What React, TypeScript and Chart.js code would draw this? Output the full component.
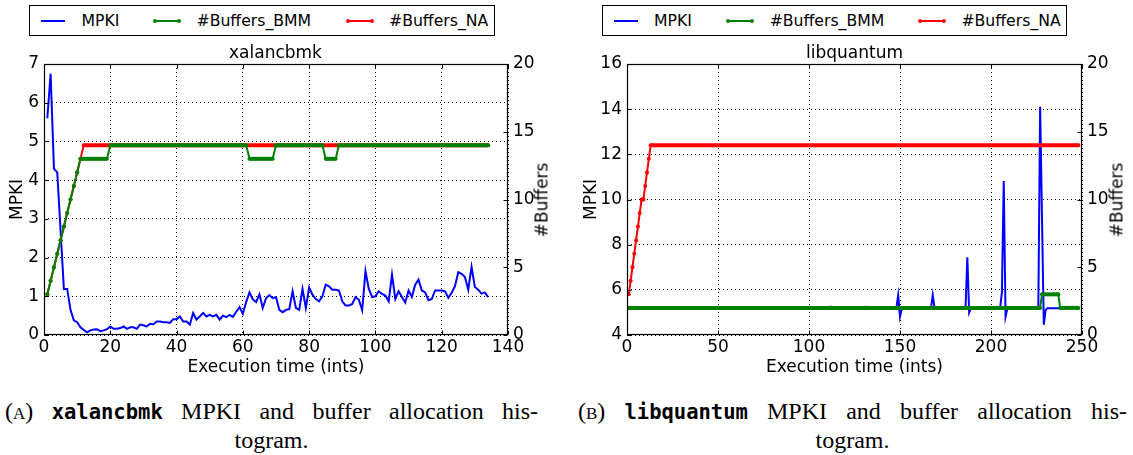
import React, { useEffect, useRef } from "react";
import { Chart, registerables } from "chart.js";

Chart.register(...registerables);

// ---------- Panel A: xalancbmk ----------
const xalanMpki = [
  5.6, 6.75, 4.3, 4.2, 2.7, 1.19, 1.19, 0.65, 0.38, 0.33,
  0.2, 0.13, 0.07, 0.12, 0.14, 0.15, 0.1, 0.12, 0.15, 0.22,
  0.16, 0.16, 0.18, 0.22, 0.16, 0.2, 0.2, 0.16, 0.27, 0.25,
  0.22, 0.29, 0.28, 0.35, 0.35, 0.33, 0.33, 0.31, 0.41, 0.41,
  0.48, 0.35, 0.35, 0.27, 0.57, 0.4, 0.48, 0.57, 0.48, 0.52,
  0.48, 0.52, 0.4, 0.5, 0.46, 0.52, 0.47, 0.6, 0.72, 0.55,
  0.85, 1.1, 0.92, 0.85, 1.05, 0.7, 0.95, 1.03, 0.95, 0.98,
  0.65, 0.59, 0.65, 0.67, 1.13, 0.7, 0.65, 1.19, 0.7, 1.23,
  1.04, 0.93, 0.87, 1.0, 1.3, 1.26, 1.17, 1.17, 1.15, 0.87,
  0.76, 0.76, 0.8, 0.98, 0.91, 0.64, 1.65, 1.19, 0.98, 1.0,
  1.13, 1.06, 1.02, 0.87, 1.56, 0.93, 1.13, 0.98, 0.84, 1.15,
  0.98, 1.3, 1.43, 1.15, 1.1, 0.9, 0.93, 1.15, 1.15, 1.15,
  1.13, 0.96, 1.09, 1.26, 1.62, 1.58, 1.5, 1.17, 1.76, 1.24,
  1.17, 1.07, 1.1, 0.98,
];
const xalanNaTime = [1, 2, 3, 4, 5, 6, 7, 8, 9, 10, 11, 12, 134];
const xalanNaBuffers = [3, 4, 5, 6, 7, 8, 9, 10, 11, 12, 13, 14, 14];
const xalanBmmTime = [1, 2, 3, 4, 5, 6, 7, 8, 9, 10, 11, 19, 20, 61, 62, 69, 70, 84, 85, 88, 89, 134];
const xalanBmmBuffers = [3, 4, 5, 6, 7, 8, 9, 10, 11, 12, 13, 13, 14, 14, 13, 13, 14, 14, 13, 13, 14, 14];

// ---------- Panel B: libquantum ----------
const libqMpkiTime = [
  1, 93, 94, 95, 111, 112, 113, 130, 131, 132, 148, 149, 150, 151,
  167, 168, 169, 186, 187, 188, 189, 205, 206, 207, 208, 209,
  226, 227, 229, 230, 231, 248,
];
const libqMpkiValue = [
  5.18, 5.18, 5.24, 5.18, 5.18, 5.26, 5.18, 5.18, 5.25, 5.18, 5.18, 5.77, 4.81, 5.18,
  5.18, 5.77, 5.18, 5.18, 7.44, 4.99, 5.18, 5.18, 5.9, 10.82, 4.81, 5.18,
  5.18, 14.11, 4.45, 5.1, 5.18, 5.18,
];
const libqNaTime = [1, 2, 3, 4, 5, 6, 7, 8, 9, 10, 11, 12, 13, 248];
const libqNaBuffers = [3, 4, 5, 6, 7, 8, 9, 10, 10, 11, 12, 13, 14, 14];
const libqBmmTime = [1, 227, 228, 237, 238, 248];
const libqBmmBuffers = [2, 2, 3, 3, 2, 2];

const seriesLabels = ["MPKI", "#Buffers_BMM", "#Buffers_NA"];
const xAxisTitle = "Execution time (ints)";
const yAxisTitle = "MPKI";
const y2AxisTitle = "#Buffers";

const BLUE = "#0000ff";
const GREEN = "#008000";
const RED = "#ff0000";
const SANS = "'DejaVu Sans', sans-serif";

type Pt = { x: number; y: number };
const zip = (xs: number[], ys: number[]): Pt[] => xs.map((x, i) => ({ x, y: ys[i] }));

const flatWidth = (ctx: any) => (ctx.p0.parsed.y === ctx.p1.parsed.y ? 4 : 2);

const frameTicks = {
  id: "frameTicks",
  afterDraw(chart: any) {
    const { ctx, chartArea: a, scales } = chart;
    const L = Math.round(a.left) + 0.5;
    const R = Math.round(a.right) - 0.5;
    const T = Math.round(a.top) + 0.5;
    const B = Math.round(a.bottom) - 0.5;
    ctx.save();
    ctx.strokeStyle = "#000";
    ctx.lineWidth = 1;
    ctx.setLineDash([]);
    ctx.beginPath();
    const len = 4;
    scales.x.ticks.forEach((t: any) => {
      const p = Math.round(scales.x.getPixelForValue(t.value)) + 0.5;
      ctx.moveTo(p, B);
      ctx.lineTo(p, B - len);
      ctx.moveTo(p, T);
      ctx.lineTo(p, T + len);
    });
    scales.y.ticks.forEach((t: any) => {
      const p = Math.round(scales.y.getPixelForValue(t.value)) + 0.5;
      ctx.moveTo(L, p);
      ctx.lineTo(L + len, p);
    });
    scales.y2.ticks.forEach((t: any) => {
      const p = Math.round(scales.y2.getPixelForValue(t.value)) + 0.5;
      ctx.moveTo(R, p);
      ctx.lineTo(R - len, p);
    });
    ctx.stroke();
    ctx.lineWidth = 1.2;
    ctx.strokeRect(L, T, R - L, B - T);
    ctx.restore();
  },
};

type Cfg = {
  mpki: Pt[];
  bmm: Pt[];
  na: Pt[];
  xMax: number;
  xStep: number;
  yMin: number;
  yMax: number;
  yStep: number;
  leftW: number;
  rightW: number;
  yTitlePad: number;
};

function makeConfig(c: Cfg): any {
  const tickFont = { family: SANS, size: 17 };
  const grid = { color: "#000", lineWidth: 1, drawTicks: false };
  const border = { display: false, dash: [1, 3] };
  return {
    type: "line",
    data: {
      datasets: [
        {
          label: seriesLabels[1],
          data: c.bmm,
          yAxisID: "y2",
          borderColor: GREEN,
          backgroundColor: GREEN,
          borderWidth: 2,
          pointRadius: 2,
          pointBorderWidth: 0,
          pointBackgroundColor: GREEN,
          tension: 0,
          order: 0,
          segment: { borderWidth: flatWidth },
        },
        {
          label: seriesLabels[2],
          data: c.na,
          yAxisID: "y2",
          borderColor: RED,
          backgroundColor: RED,
          borderWidth: 2,
          pointRadius: 2,
          pointBorderWidth: 0,
          pointBackgroundColor: RED,
          tension: 0,
          order: 1,
          segment: { borderWidth: flatWidth },
        },
        {
          label: seriesLabels[0],
          data: c.mpki,
          yAxisID: "y",
          borderColor: BLUE,
          backgroundColor: BLUE,
          borderWidth: 2,
          pointRadius: 0,
          tension: 0,
          order: 2,
        },
      ],
    },
    options: {
      responsive: false,
      animation: false,
      devicePixelRatio: 1,
      layout: { padding: { top: 24, left: 0, right: 0, bottom: 0 } },
      plugins: {
        legend: { display: false },
        tooltip: { enabled: false },
        title: { display: false },
      },
      scales: {
        x: {
          type: "linear",
          min: 0,
          max: c.xMax,
          ticks: { stepSize: c.xStep, font: tickFont, color: "#000", padding: 2, maxRotation: 0, autoSkip: false },
          grid,
          border,
          title: {
            display: true,
            text: xAxisTitle,
            color: "#000",
            font: { family: SANS, size: 17 },
            padding: { top: 0, bottom: 7 },
          },
          afterFit: (s: any) => {
            s.height = 50;
          },
        },
        y: {
          type: "linear",
          position: "left",
          min: c.yMin,
          max: c.yMax,
          ticks: { stepSize: c.yStep, font: tickFont, color: "#000", padding: 5 },
          grid,
          border,
          title: {
            display: true,
            text: yAxisTitle,
            color: "#000",
            font: { family: SANS, size: 17 },
            padding: { top: c.yTitlePad, bottom: 0 },
          },
          afterFit: (s: any) => {
            s.width = c.leftW;
          },
        },
        y2: {
          type: "linear",
          position: "right",
          min: 0,
          max: 20,
          ticks: { stepSize: 5, font: tickFont, color: "#000", padding: 5 },
          grid: { display: false, drawTicks: false },
          border: { display: false },
          afterFit: (s: any) => {
            s.width = c.rightW;
          },
        },
      },
    },
    plugins: [frameTicks],
  };
}

type LegendItem = { color: string; markers: boolean; lineX: number; textX: number; label: string };

function LegendBox({ left, width, items }: { left: number; width: number; items: LegendItem[] }) {
  return (
    <div
      style={{
        position: "absolute",
        left,
        top: 5,
        width,
        height: 31,
        boxSizing: "border-box",
        border: "1.3px solid #000",
        background: "#fff",
        fontFamily: SANS,
        fontSize: 15.7,
      }}
    >
      {items.map((it, i) => (
        <React.Fragment key={i}>
          <div
            style={{
              position: "absolute",
              left: it.lineX,
              top: 13.5,
              width: 24,
              height: 2,
              background: it.color,
            }}
          />
          {it.markers && (
            <>
              <div style={{ position: "absolute", left: it.lineX - 2, top: 12.5, width: 4, height: 4, borderRadius: 2, background: it.color }} />
              <div style={{ position: "absolute", left: it.lineX + 22, top: 12.5, width: 4, height: 4, borderRadius: 2, background: it.color }} />
            </>
          )}
          <div
            style={{
              position: "absolute",
              left: it.textX,
              top: 14.5,
              transform: "translateY(-50%)",
              whiteSpace: "nowrap",
              lineHeight: 1,
              color: "#000",
            }}
          >
            {it.label}
          </div>
        </React.Fragment>
      ))}
    </div>
  );
}

function Centered({ x, y, text, rotate }: { x: number; y: number; text: string; rotate?: boolean }) {
  return (
    <div
      style={{
        position: "absolute",
        left: x,
        top: y,
        transform: `translate(-50%, -50%)${rotate ? " rotate(-90deg)" : ""}`,
        whiteSpace: "nowrap",
        fontFamily: SANS,
        fontSize: 17,
        lineHeight: 1,
        color: "#000",
      }}
    >
      {text}
    </div>
  );
}

function Caption({ left, width, tag, bench }: { left: number; width: number; tag: string; bench: string }) {
  const serif = "'Liberation Serif', 'DejaVu Serif', serif";
  return (
    <>
      <div
        style={{
          position: "absolute",
          left,
          top: 398,
          width,
          fontFamily: serif,
          fontSize: 24,
          lineHeight: "27px",
          textAlign: "justify",
          textAlignLast: "justify",
          color: "#000",
        }}
      >
        (<span style={{ fontVariant: "small-caps" }}>{tag}</span>){" "}
        <span style={{ fontFamily: "'DejaVu Sans Mono', monospace", fontSize: 20.5, fontWeight: 600 }}>{bench}</span> MPKI and buffer allocation his-
      </div>
      <div
        style={{
          position: "absolute",
          left,
          top: 427,
          width,
          fontFamily: serif,
          fontSize: 24,
          lineHeight: "27px",
          textAlign: "center",
          color: "#000",
        }}
      >
        togram.
      </div>
    </>
  );
}

export default function App() {
  const leftRef = useRef<HTMLCanvasElement>(null);
  const rightRef = useRef<HTMLCanvasElement>(null);

  useEffect(() => {
    const c1 = new Chart(
      leftRef.current!,
      makeConfig({
        mpki: xalanMpki.map((v, i) => ({ x: i + 1, y: v })),
        bmm: zip(xalanBmmTime, xalanBmmBuffers),
        na: zip(xalanNaTime, xalanNaBuffers),
        xMax: 140,
        xStep: 20,
        yMin: 0,
        yMax: 7,
        yStep: 1,
        leftW: 44,
        rightW: 52,
        yTitlePad: 7,
      })
    );
    const c2 = new Chart(
      rightRef.current!,
      makeConfig({
        mpki: zip(libqMpkiTime, libqMpkiValue),
        bmm: zip(libqBmmTime, libqBmmBuffers),
        na: zip(libqNaTime, libqNaBuffers),
        xMax: 250,
        xStep: 50,
        yMin: 4,
        yMax: 16,
        yStep: 2,
        leftW: 57,
        rightW: 51,
        yTitlePad: 11.5,
      })
    );
    return () => {
      c1.destroy();
      c2.destroy();
    };
  }, []);

  const leftItems: LegendItem[] = [
    { color: BLUE, markers: false, lineX: 10.5, textX: 51.5, label: seriesLabels[0] },
    { color: GREEN, markers: true, lineX: 124.5, textX: 166.5, label: seriesLabels[1] },
    { color: RED, markers: true, lineX: 317.5, textX: 359, label: seriesLabels[2] },
  ];
  const rightItems: LegendItem[] = [
    { color: BLUE, markers: false, lineX: 11, textX: 51, label: seriesLabels[0] },
    { color: GREEN, markers: true, lineX: 124.5, textX: 166.7, label: seriesLabels[1] },
    { color: RED, markers: true, lineX: 316.5, textX: 358.4, label: seriesLabels[2] },
  ];

  return (
    <div style={{ position: "absolute", left: 0, top: 0, width: 1133, height: 455, background: "#fff", overflow: "hidden" }}>
      <canvas ref={leftRef} width={560} height={345} style={{ position: "absolute", left: 0, top: 40, width: 560, height: 345 }} />
      <canvas ref={rightRef} width={563} height={345} style={{ position: "absolute", left: 570, top: 40, width: 563, height: 345 }} />
      <LegendBox left={29} width={466} items={leftItems} />
      <LegendBox left={602} width={465} items={rightItems} />
      <Centered x={275.5} y={52} text="xalancbmk" />
      <Centered x={854.5} y={52} text="libquantum" />
      <Centered x={541.7} y={199.5} text={y2AxisTitle} rotate />
      <Centered x={1116.7} y={199.5} text={y2AxisTitle} rotate />
      <Caption left={5} width={533} tag="a" bench="xalancbmk" />
      <Caption left={578} width={549} tag="b" bench="libquantum" />
    </div>
  );
}
